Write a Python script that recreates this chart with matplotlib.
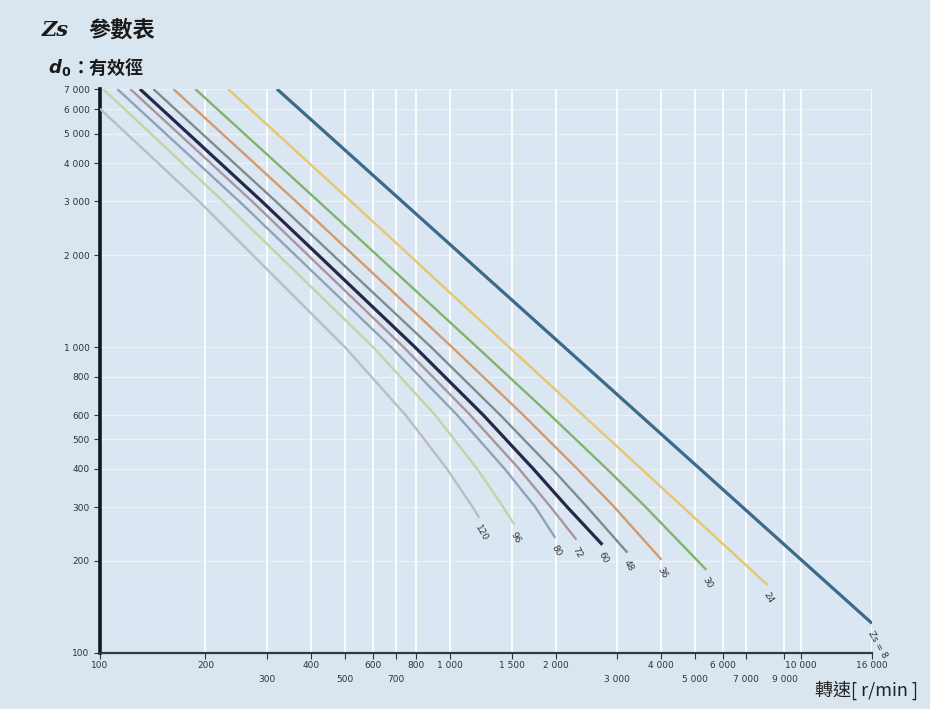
import matplotlib
matplotlib.use("Agg")
import matplotlib.pyplot as plt
from matplotlib.ticker import FixedLocator, FixedFormatter

# ---- data ----
series_labels = ["120", "96", "80", "72", "60", "48", "36", "30", "24", "Zs = 8"]
rpm = [
    [100, 192, 501, 746, 979, 1159, 1210],
    [102, 225, 603, 906, 1194, 1417, 1524],
    [112, 250, 679, 1047, 1431, 1750, 1995],
    [122, 272, 737, 1141, 1573, 1937, 2291],
    [130, 290, 794, 1243, 1727, 2159, 2719],
    [142, 318, 883, 1390, 1956, 2462, 3204],
    [162, 363, 1013, 1617, 2307, 2942, 4008],
    [187, 421, 1194, 1931, 2800, 3616, 5387],
    [232, 521, 1474, 8050],
    [320, 16000],
]
d0 = [
    [6030, 3000, 1000, 600, 400, 300, 277],
    [7000, 3000, 1000, 600, 400, 300, 263],
    [7000, 3000, 1000, 600, 400, 300, 238],
    [7000, 3000, 1000, 600, 400, 300, 235],
    [7000, 3000, 1000, 600, 400, 300, 226],
    [7000, 3000, 1000, 600, 400, 300, 213],
    [7000, 3000, 1000, 600, 400, 300, 202],
    [7000, 3000, 1000, 600, 400, 300, 187],
    [7000, 3000, 1000, 167],
    [7000, 125],
]
colors = ["#b8bfc2", "#c3d4a4", "#8ea2bb", "#a9959f", "#26284a",
          "#7f8b8e", "#d39b6c", "#7fb46a", "#e6c66e", "#3b6a8a"]
widths = [1.7, 1.7, 1.7, 1.7, 2.3, 1.7, 1.7, 1.7, 1.7, 2.3]

x_ticks_upper = [100, 200, 400, 600, 800, 1000, 1500, 2000, 4000, 6000, 10000, 16000]
x_labels_upper = ["100", "200", "400", "600", "800", "1 000", "1 500", "2 000",
                  "4 000", "6 000", "10 000", "16 000"]
x_ticks_lower = [300, 500, 700, 3000, 5000, 7000, 9000]
x_labels_lower = ["300", "500", "700", "3 000", "5 000", "7 000", "9 000"]
y_ticks = [100, 200, 300, 400, 500, 600, 800, 1000, 2000, 3000, 4000, 5000, 6000, 7000]
y_tick_labels = ["100", "200", "300", "400", "500", "600", "800", "1 000",
                 "2 000", "3 000", "4 000", "5 000", "6 000", "7 000"]

bg = "#d9e5ef"
fig = plt.figure(figsize=(9.3, 7.09), dpi=100, facecolor=bg)
ax = fig.add_axes([100 / 930, 56 / 709, 772 / 930, 564 / 709])
ax.set_facecolor("#dae6f1")
ax.set_xscale("log")
ax.set_yscale("log")
ax.set_xlim(100, 16000)
ax.set_ylim(100, 7000)

for xv in x_ticks_upper[1:] + x_ticks_lower:
    ax.axvline(xv, color="white", lw=1.3, alpha=0.95, zorder=1)
for yv in y_ticks[1:]:
    ax.axhline(yv, color="white", lw=1.0, alpha=0.45, zorder=1)

for xs, ys, c, w, lab in zip(rpm, d0, colors, widths, series_labels):
    ax.plot(xs, ys, color=c, lw=w, solid_capstyle="butt", solid_joinstyle="round", zorder=3)
    ax.annotate(lab, xy=(xs[-1], ys[-1]), xytext=(2, -6), textcoords="offset pixels",
                rotation=-60, ha="left", va="top", fontsize=6.5, color="#333333",
                rotation_mode="anchor", zorder=4)

ax.xaxis.set_major_locator(FixedLocator(x_ticks_upper))
ax.xaxis.set_major_formatter(FixedFormatter(x_labels_upper))
ax.xaxis.set_minor_locator(FixedLocator(x_ticks_lower))
ax.xaxis.set_minor_formatter(FixedFormatter(x_labels_lower))
ax.yaxis.set_major_locator(FixedLocator(y_ticks))
ax.yaxis.set_major_formatter(FixedFormatter(y_tick_labels))
ax.yaxis.set_minor_locator(FixedLocator([]))
ax.tick_params(axis="both", which="both", labelsize=6.5, colors="#333333",
               length=4, width=0.8, direction="out")
ax.tick_params(axis="x", which="major", pad=2)
ax.tick_params(axis="x", which="minor", pad=12)

for s in ["top", "right"]:
    ax.spines[s].set_visible(False)
ax.spines["left"].set_linewidth(2.6)
ax.spines["left"].set_color("#111820")
ax.spines["bottom"].set_linewidth(1.6)
ax.spines["bottom"].set_color("#2e3a44")

cjk = ["Noto Sans CJK TC", "DejaVu Sans"]
fig.text(42 / 930, 1 - 30 / 709, "Zs", family="DejaVu Serif", style="italic",
         weight="bold", fontsize=15, color="#1a1a1a", va="center")
fig.text(88 / 930, 1 - 30 / 709, "參數表", family=cjk, weight="bold",
         fontsize=16, color="#1a1a1a", va="center")
fig.text(48 / 930, 1 - 68 / 709, r"$\boldsymbol{d}_{\mathbf{0}}$", fontsize=13,
         color="#1a1a1a", va="center")
fig.text(72 / 930, 1 - 68 / 709, "：有效徑", family=cjk, weight="bold",
         fontsize=13, color="#1a1a1a", va="center")
fig.text(918 / 930, 1 - 690 / 709, "轉速[ r/min ]", family=cjk,
         fontsize=13, color="#222222", va="center", ha="right")

fig.savefig("out.png", dpi=100, facecolor=bg)
